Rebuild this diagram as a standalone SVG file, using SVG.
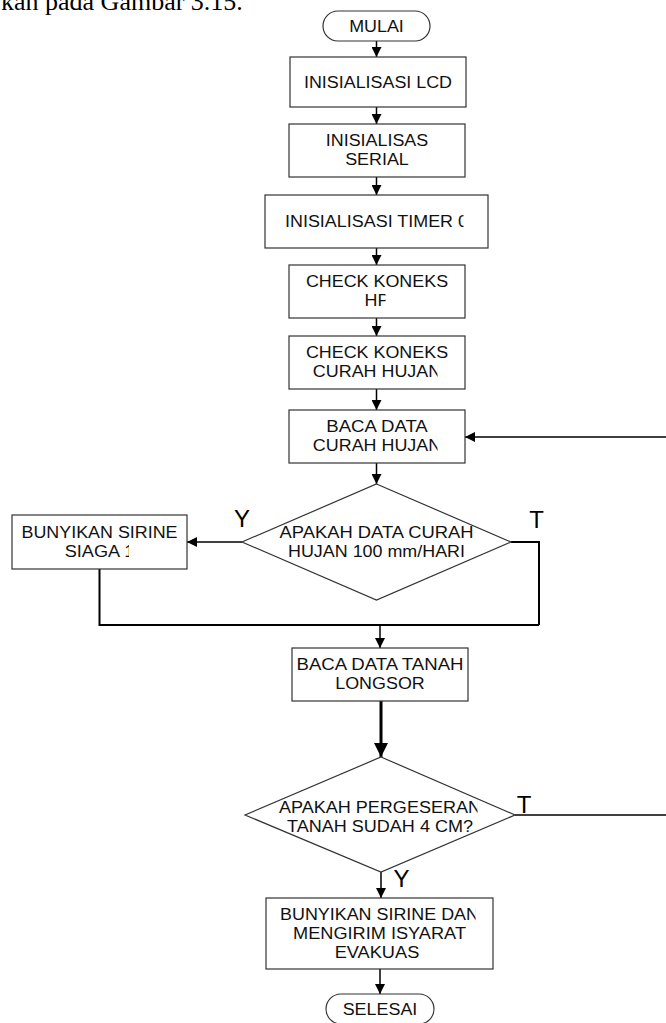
<svg xmlns="http://www.w3.org/2000/svg" width="666" height="1023" viewBox="0 0 666 1023">
<style>
.box{fill:#fff;stroke:#333;stroke-width:1.2}
.t{font-family:"Liberation Sans",Arial,sans-serif;font-size:16px;fill:#111;text-anchor:middle}
.lbl{font-family:"Liberation Sans",Arial,sans-serif;font-size:24px;fill:#000;text-anchor:middle}
.c{fill:none;stroke:#000;stroke-width:1.5}
.ca{fill:none;stroke:#000;stroke-width:1.5;marker-end:url(#ah)}
.ck{fill:none;stroke:#000;stroke-width:3;marker-end:url(#ahb)}
.page{font-family:"Liberation Serif","Times New Roman",serif;font-size:26px;fill:#000}
</style>
<defs>
<marker id="ah" viewBox="0 0 10 10" refX="10" refY="5" markerWidth="10" markerHeight="10" markerUnits="userSpaceOnUse" orient="auto"><path d="M0,0 L10,5 L0,10 z" fill="#000"/></marker>
<marker id="ahb" viewBox="0 0 10 10" refX="10" refY="5" markerWidth="14" markerHeight="14" markerUnits="userSpaceOnUse" orient="auto"><path d="M0,0 L10,5 L0,10 z" fill="#000"/></marker>
<clipPath id="cTimer"><rect x="0" y="195" width="463.5" height="53"/></clipPath>
<clipPath id="cHP"><rect x="0" y="290" width="385.5" height="28"/></clipPath>
<clipPath id="cN1"><rect x="0" y="362" width="437.5" height="26"/></clipPath>
<clipPath id="cN2"><rect x="0" y="436" width="437.5" height="26"/></clipPath>
<clipPath id="cSiaga"><rect x="0" y="540" width="129" height="28"/></clipPath>
<clipPath id="cPerg"><rect x="0" y="795" width="477.5" height="22"/></clipPath>
<clipPath id="cDan"><rect x="0" y="900" width="475.5" height="24"/></clipPath>
</defs>

<text class="page" x="1" y="10">kan pada Gambar 3.15.</text>

<g id="connectors">
<line class="ca" x1="376.5" y1="41" x2="376.5" y2="57"/>
<line class="ca" x1="376.5" y1="107" x2="376.5" y2="124"/>
<line class="ca" x1="376.5" y1="177" x2="376.5" y2="195"/>
<line class="ca" x1="376.5" y1="248" x2="376.5" y2="265"/>
<line class="ca" x1="376.5" y1="318" x2="376.5" y2="336"/>
<line class="ca" x1="376.5" y1="389" x2="376.5" y2="410"/>
<line class="ca" x1="666" y1="437" x2="465" y2="437"/>
<line class="ca" x1="376.5" y1="463" x2="376.5" y2="484"/>
<line class="ca" x1="242" y1="542" x2="187" y2="542"/>
<polyline class="c" points="99.5,569 99.5,625 539,625" style="stroke-width:2"/>
<polyline class="c" points="511,542 539,542 539,625" style="stroke-width:2"/>
<line class="ca" x1="380" y1="625" x2="380" y2="648"/>
<line class="ck" x1="381" y1="701" x2="381" y2="757"/>
<line class="c" x1="515" y1="815" x2="666" y2="815"/>
<line class="ca" x1="381" y1="872" x2="381" y2="898"/>
<line class="ca" x1="380" y1="969" x2="380" y2="994"/>
</g>

<g id="mulai">
<rect class="box" x="323" y="11" width="107" height="30" rx="15"/>
<text class="t" x="376.5" y="32" textLength="54.7" lengthAdjust="spacingAndGlyphs">MULAI</text>
</g>
<g id="init-lcd">
<rect class="box" x="290" y="57" width="176" height="50"/>
<text class="t" x="378" y="88" textLength="148" lengthAdjust="spacingAndGlyphs">INISIALISASI LCD</text>
</g>
<g id="init-serial">
<rect class="box" x="289" y="124" width="176" height="53"/>
<text class="t" x="377" y="146" textLength="102.5" lengthAdjust="spacingAndGlyphs">INISIALISAS</text>
<text class="t" x="377" y="165" textLength="63.7" lengthAdjust="spacingAndGlyphs">SERIAL</text>
</g>
<g id="init-timer">
<rect class="box" x="265" y="195" width="223" height="53"/>
<text class="t" x="376.5" y="227" textLength="183" lengthAdjust="spacingAndGlyphs" clip-path="url(#cTimer)">INISIALISASI TIMER 0</text>
</g>
<g id="check-hp">
<rect class="box" x="289" y="265" width="176" height="53"/>
<text class="t" x="377" y="287" textLength="142.2" lengthAdjust="spacingAndGlyphs">CHECK KONEKS</text>
<text class="t" x="377" y="306" textLength="24.9" lengthAdjust="spacingAndGlyphs" clip-path="url(#cHP)">HP</text>
</g>
<g id="check-curah">
<rect class="box" x="289" y="336" width="176" height="53"/>
<text class="t" x="377" y="358" textLength="142.2" lengthAdjust="spacingAndGlyphs">CHECK KONEKS</text>
<text class="t" x="377" y="377" textLength="128.3" lengthAdjust="spacingAndGlyphs" clip-path="url(#cN1)">CURAH HUJAN</text>
</g>
<g id="baca-curah">
<rect class="box" x="289" y="410" width="176" height="53"/>
<text class="t" x="377" y="432" textLength="101.5" lengthAdjust="spacingAndGlyphs">BACA DATA</text>
<text class="t" x="377" y="451" textLength="128.3" lengthAdjust="spacingAndGlyphs" clip-path="url(#cN2)">CURAH HUJAN</text>
</g>
<g id="cek-curah">
<polygon class="box" points="376.5,484 511,542 376.5,600 242,542"/>
<text class="t" x="376.5" y="538" textLength="194" lengthAdjust="spacingAndGlyphs">APAKAH DATA CURAH</text>
<text class="t" x="376.5" y="557" textLength="177" lengthAdjust="spacingAndGlyphs">HUJAN 100 mm/HARI</text>
<text class="lbl" x="242" y="527">Y</text>
<text class="lbl" x="536.5" y="528">T</text>
</g>
<g id="siaga1">
<rect class="box" x="12" y="515" width="175" height="54"/>
<text class="t" x="99.5" y="537.5" textLength="156" lengthAdjust="spacingAndGlyphs">BUNYIKAN SIRINE</text>
<text class="t" x="99.5" y="556.5" textLength="69.6" lengthAdjust="spacingAndGlyphs" clip-path="url(#cSiaga)">SIAGA 1</text>
</g>
<g id="baca-tanah">
<rect class="box" x="292" y="648" width="176" height="53"/>
<text class="t" x="380" y="670" textLength="167" lengthAdjust="spacingAndGlyphs">BACA DATA TANAH</text>
<text class="t" x="380" y="689" textLength="89.5" lengthAdjust="spacingAndGlyphs">LONGSOR</text>
</g>
<g id="cek-tanah">
<polygon class="box" points="381,757 515,815 381,872 245,815"/>
<text class="t" x="380" y="813" textLength="202" lengthAdjust="spacingAndGlyphs" clip-path="url(#cPerg)">APAKAH PERGESERAN</text>
<text class="t" x="380" y="832" textLength="186" lengthAdjust="spacingAndGlyphs">TANAH SUDAH 4 CM?</text>
<text class="lbl" x="524" y="813">T</text>
<text class="lbl" x="401.5" y="887">Y</text>
</g>
<g id="evakuasi">
<rect class="box" x="266" y="898" width="227" height="71"/>
<text class="t" x="379.5" y="920" textLength="199" lengthAdjust="spacingAndGlyphs" clip-path="url(#cDan)">BUNYIKAN SIRINE DAN</text>
<text class="t" x="379.5" y="939" textLength="173" lengthAdjust="spacingAndGlyphs">MENGIRIM ISYARAT</text>
<text class="t" x="334.7" y="958" textLength="84.6" lengthAdjust="spacingAndGlyphs" style="text-anchor:start">EVAKUAS</text>
</g>
<g id="selesai">
<rect class="box" x="326" y="994" width="108" height="30" rx="15"/>
<text class="t" x="380" y="1015" textLength="74.6" lengthAdjust="spacingAndGlyphs">SELESAI</text>
</g>
</svg>
